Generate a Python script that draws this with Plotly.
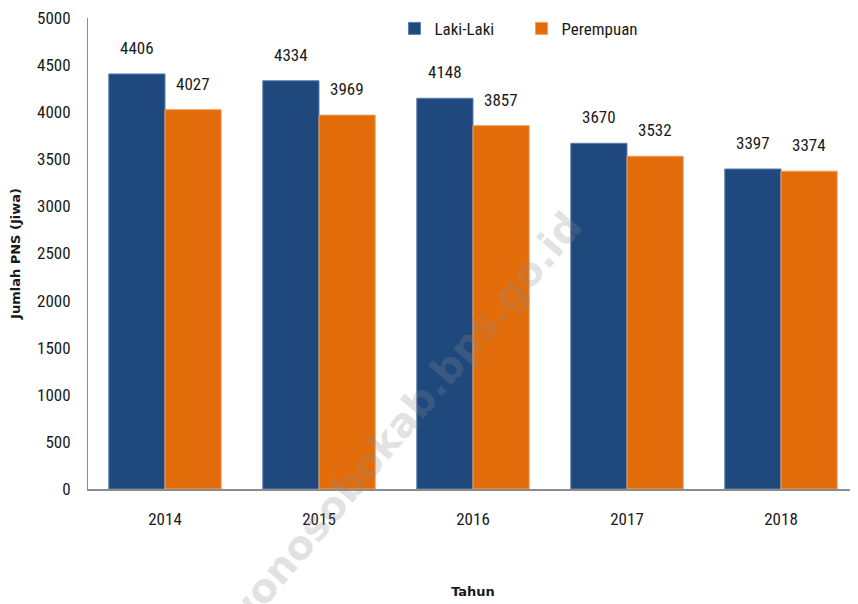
import plotly.graph_objects as go

years = ["2014", "2015", "2016", "2017", "2018"]
laki = [4406, 4334, 4148, 3670, 3397]
perempuan = [4027, 3969, 3857, 3532, 3374]
y_ticks = [0, 500, 1000, 1500, 2000, 2500, 3000, 3500, 4000, 4500, 5000]

FONT = "Liberation Sans Narrow, Arial Narrow, Roboto Condensed, sans-serif"
# the page puts the figure 8 px from the window's corner, so the figure is 8 px smaller
W, H = 850, 596
ML, MR, MT, MB = 80, 0, 10, 115
BARGAP = 0.27

fig = go.Figure()
fig.add_trace(go.Bar(
    x=years, y=laki, name="Laki-Laki",
    marker=dict(color="#1F497D", line=dict(color="#5B7FB0", width=1)),
))
fig.add_trace(go.Bar(
    x=years, y=perempuan, name="Perempuan",
    marker=dict(color="#E36C0A", line=dict(color="#F0A060", width=1)),
))

# value labels, placed at the data values through the axes (category index)
cat_px = (W - ML - MR) / len(years)
bar_px = cat_px * (1 - BARGAP) / 2
for series, side in ((laki, -1), (perempuan, 1)):
    for i, v in enumerate(series):
        fig.add_annotation(
            x=i, y=v, xref="x", yref="y", text=str(v), showarrow=False,
            xshift=side * bar_px / 2, yshift=14, yanchor="bottom", xanchor="center",
            font=dict(family=FONT, size=17, color="#1a1a1a"),
        )

fig.update_layout(
    width=W, height=H,
    margin=dict(l=ML, r=MR, t=MT, b=MB, autoexpand=False),
    paper_bgcolor="white", plot_bgcolor="white",
    barmode="group", bargap=BARGAP, bargroupgap=0,
    font=dict(family=FONT, size=16, color="#1a1a1a"),
    legend=dict(orientation="h", x=0.398, y=0.977, xanchor="left", yanchor="middle",
                font=dict(family=FONT, size=17, color="#1a1a1a"),
                itemwidth=30, entrywidth=82, traceorder="normal", bgcolor="rgba(0,0,0,0)"),
    xaxis=dict(type="category", range=[-0.5, len(years) - 0.5], showline=True, linecolor="#8c8c8c",
               linewidth=2, ticks="",
               tickfont=dict(family=FONT, size=17), showgrid=False, automargin=False,
               ticklabelstandoff=14,
               title=dict(text="<b>Tahun</b>", font=dict(family="DejaVu Sans", size=13, color="#1a1a1a"), standoff=58)),
    yaxis=dict(range=[0, 5000], tickvals=y_ticks, showline=True, linecolor="#8c8c8c", linewidth=1,
               ticks="", showgrid=False, zeroline=False, automargin=False,
               ticklabelstandoff=13, ticklabeloverflow="allow",
               tickfont=dict(family=FONT, size=17),
               title=dict(text="<b>Jumlah PNS (Jiwa)</b>", font=dict(family="DejaVu Sans", size=13, color="#1a1a1a"), standoff=45)),
)

fig.add_annotation(
    text="<b>wonosobokab.bps.go.id</b>", xref="paper", yref="paper",
    x=0.407, y=0.14, xanchor="center", yanchor="middle", showarrow=False, textangle=-50,
    font=dict(family="DejaVu Sans", size=40, color="rgba(140,140,140,0.25)"),
)

fig.write_html("out.html")
